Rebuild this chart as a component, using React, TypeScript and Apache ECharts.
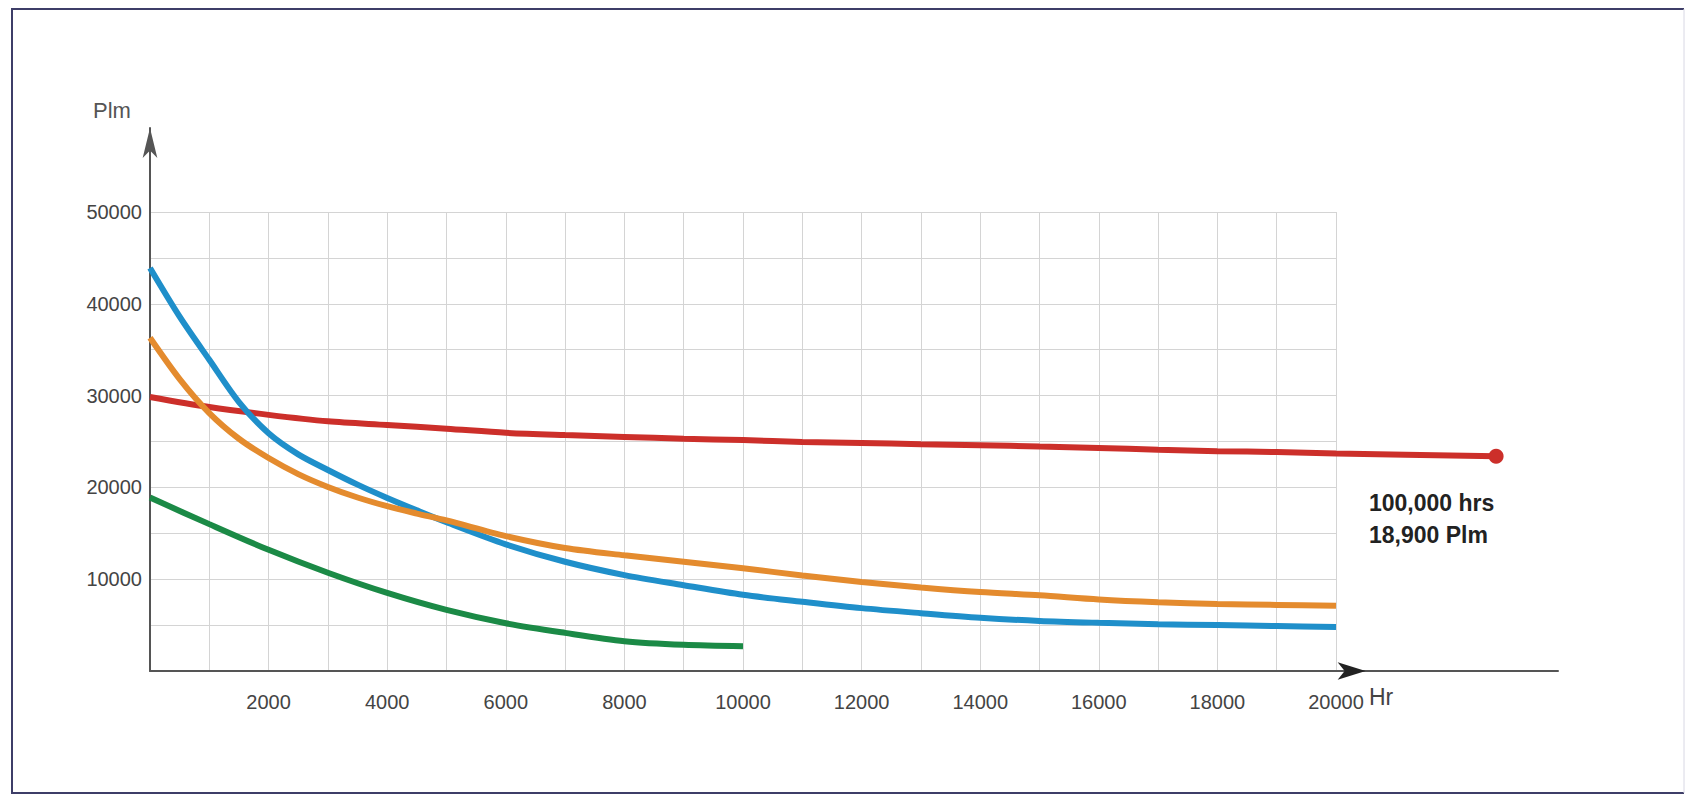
import React, { useEffect, useRef } from "react";
import * as echarts from "echarts";

// Hours (x) and lumen values (y)
const hoursFull = [0, 500, 1000, 1500, 2000, 2500, 3000, 3500, 4000, 4500, 5000, 6000, 7000, 8000, 9000, 10000, 11000, 12000, 13000, 14000, 15000, 16000, 17000, 18000, 19000, 20000];
const blueValues = [43900, 38600, 33900, 29300, 25900, 23600, 21900, 20300, 18850, 17500, 16200, 13800, 11900, 10450, 9350, 8300, 7550, 6850, 6300, 5800, 5450, 5250, 5100, 5000, 4900, 4800];
const orangeValues = [36300, 31800, 28100, 25300, 23200, 21450, 20050, 18900, 17950, 17150, 16400, 14700, 13400, 12600, 11900, 11200, 10400, 9700, 9100, 8600, 8250, 7800, 7500, 7300, 7200, 7100];

const redHours = [0, 1000, 2000, 3000, 4000, 5000, 6000, 7000, 8000, 9000, 10000, 11000, 12000, 13000, 14000, 15000, 16000, 17000, 18000, 19000, 20000, 22700];
const redValues = [29850, 28750, 27900, 27200, 26800, 26400, 25950, 25700, 25500, 25300, 25150, 24950, 24850, 24700, 24600, 24450, 24300, 24100, 23950, 23850, 23700, 23400];

const greenHours = [0, 1000, 2000, 3000, 4000, 5000, 6000, 7000, 8000, 9000, 10000];
const greenValues = [18900, 16000, 13200, 10700, 8500, 6650, 5200, 4150, 3250, 2850, 2700];

const xTickStep = 2000;
const yTickStep = 10000;
const xGridMax = 20000;
const yGridMax = 50000;
const xArrowAt = 20500;

const annotationText = "100,000 hrs\n18,900 Plm";

const FONT = "'Liberation Sans', Arial, sans-serif";

function pairs(xs: number[], ys: number[]) {
  return xs.map((x, i) => [x, ys[i]]);
}

export default function App() {
  const ref = useRef<HTMLDivElement>(null);

  useEffect(() => {
    if (!ref.current) return;
    const chart = echarts.init(ref.current, undefined, { renderer: "svg" });

    // layout (pixels)
    const left = 150;
    const bottomY = 671;
    const gridTop = 212;
    const gridW = 1186;
    const outerTop = 128;
    const outerRight = 1558;
    const outerW = outerRight - left;
    const outerH = bottomY - outerTop;
    const gridH = bottomY - gridTop;
    const xOuterMax = (xGridMax * outerW) / gridW;
    const yOuterMax = (yGridMax * outerH) / gridH;

    const redData: any[] = pairs(redHours, redValues);
    const last = redData.length - 1;
    redData[last] = {
      value: redData[last],
      symbol: "circle",
      symbolSize: 15,
      itemStyle: { color: "#cc2f2a" },
    };

    const option: any = {
      animation: false,
      backgroundColor: "#ffffff",
      grid: [
        { left, top: gridTop, width: gridW, height: gridH },
        { left, top: outerTop, width: outerW, height: outerH },
      ],
      xAxis: [
        {
          type: "value",
          gridIndex: 0,
          min: 0,
          max: xGridMax,
          interval: 1000,
          axisLine: { show: false },
          axisTick: { show: false },
          splitLine: { show: true, lineStyle: { color: "#d4d4d4", width: 1 } },
          axisLabel: {
            margin: 21,
            color: "#444",
            fontSize: 20,
            fontFamily: FONT,
            formatter: (v: number) => (v > 0 && v % xTickStep === 0 ? String(v) : ""),
          },
        },
        {
          type: "value",
          gridIndex: 1,
          min: 0,
          max: xOuterMax,
          axisLine: { show: true, lineStyle: { color: "#555", width: 2 } },
          axisTick: { show: false },
          axisLabel: { show: false },
          splitLine: { show: false },
        },
      ],
      yAxis: [
        {
          type: "value",
          gridIndex: 0,
          min: 0,
          max: yGridMax,
          interval: 5000,
          axisLine: { show: false },
          axisTick: { show: false },
          splitLine: { show: true, lineStyle: { color: "#d4d4d4", width: 1 } },
          axisLabel: {
            margin: 8,
            color: "#444",
            fontSize: 20,
            fontFamily: FONT,
            formatter: (v: number) => (v > 0 && v % yTickStep === 0 ? String(v) : ""),
          },
        },
        {
          type: "value",
          gridIndex: 1,
          min: 0,
          max: yOuterMax,
          axisLine: {
            show: true,
            symbol: ["none", "arrow"],
            symbolSize: [11, 30],
            lineStyle: { color: "#555", width: 2 },
          },
          axisTick: { show: false },
          axisLabel: { show: false },
          splitLine: { show: false },
        },
      ],
      series: [
        {
          name: "red",
          type: "line",
          xAxisIndex: 1,
          yAxisIndex: 1,
          smooth: 0.3,
          symbol: "none",
          showSymbol: true,
          lineStyle: { color: "#cc2f2a", width: 6 },
          itemStyle: { color: "#cc2f2a" },
          data: redData,
          markPoint: {
            silent: true,
            label: { show: false },
            data: [
              {
                coord: [xArrowAt, 0],
                symbol: "arrow",
                symbolRotate: -90,
                symbolSize: [13, 28],
                itemStyle: { color: "#222" },
              },
            ],
          },
        },
        {
          name: "green",
          type: "line",
          xAxisIndex: 1,
          yAxisIndex: 1,
          smooth: 0.3,
          symbol: "none",
          lineStyle: { color: "#1b8a46", width: 6 },
          data: pairs(greenHours, greenValues),
        },
        {
          name: "blue",
          type: "line",
          xAxisIndex: 1,
          yAxisIndex: 1,
          smooth: 0.3,
          symbol: "none",
          lineStyle: { color: "#1f8fca", width: 6 },
          data: pairs(hoursFull, blueValues),
        },
        {
          name: "orange",
          type: "line",
          xAxisIndex: 1,
          yAxisIndex: 1,
          smooth: 0.3,
          symbol: "none",
          lineStyle: { color: "#e48b2e", width: 6 },
          data: pairs(hoursFull, orangeValues),
        },
      ],
      graphic: [
        {
          type: "polyline",
          silent: true,
          shape: { points: [[1684, 9], [12, 9], [12, 793], [1684, 793]] },
          style: { stroke: "#3e3e68", lineWidth: 2, fill: "none" },
        },
        {
          type: "line",
          silent: true,
          shape: { x1: 1684, y1: 9, x2: 1684, y2: 793 },
          style: { stroke: "#d8d8e4", lineWidth: 1 },
        },
        {
          type: "text",
          x: 112,
          y: 110,
          style: {
            text: "Plm",
            font: `22px ${FONT}`,
            fill: "#555",
            align: "center",
            verticalAlign: "middle",
          },
        },
        {
          type: "text",
          x: 1369,
          y: 697,
          style: {
            text: "Hr",
            font: `23px ${FONT}`,
            fill: "#444",
            align: "left",
            verticalAlign: "middle",
          },
        },
        {
          type: "text",
          x: 1369,
          y: 487,
          style: {
            text: annotationText,
            font: `bold 23px ${FONT}`,
            lineHeight: 32,
            fill: "#222",
            align: "left",
            verticalAlign: "top",
          },
        },
      ],
    };

    chart.setOption(option);
    return () => chart.dispose();
  }, []);

  return (
    <div
      ref={ref}
      style={{ position: "fixed", left: 0, top: 0, width: 1688, height: 795 }}
    />
  );
}
